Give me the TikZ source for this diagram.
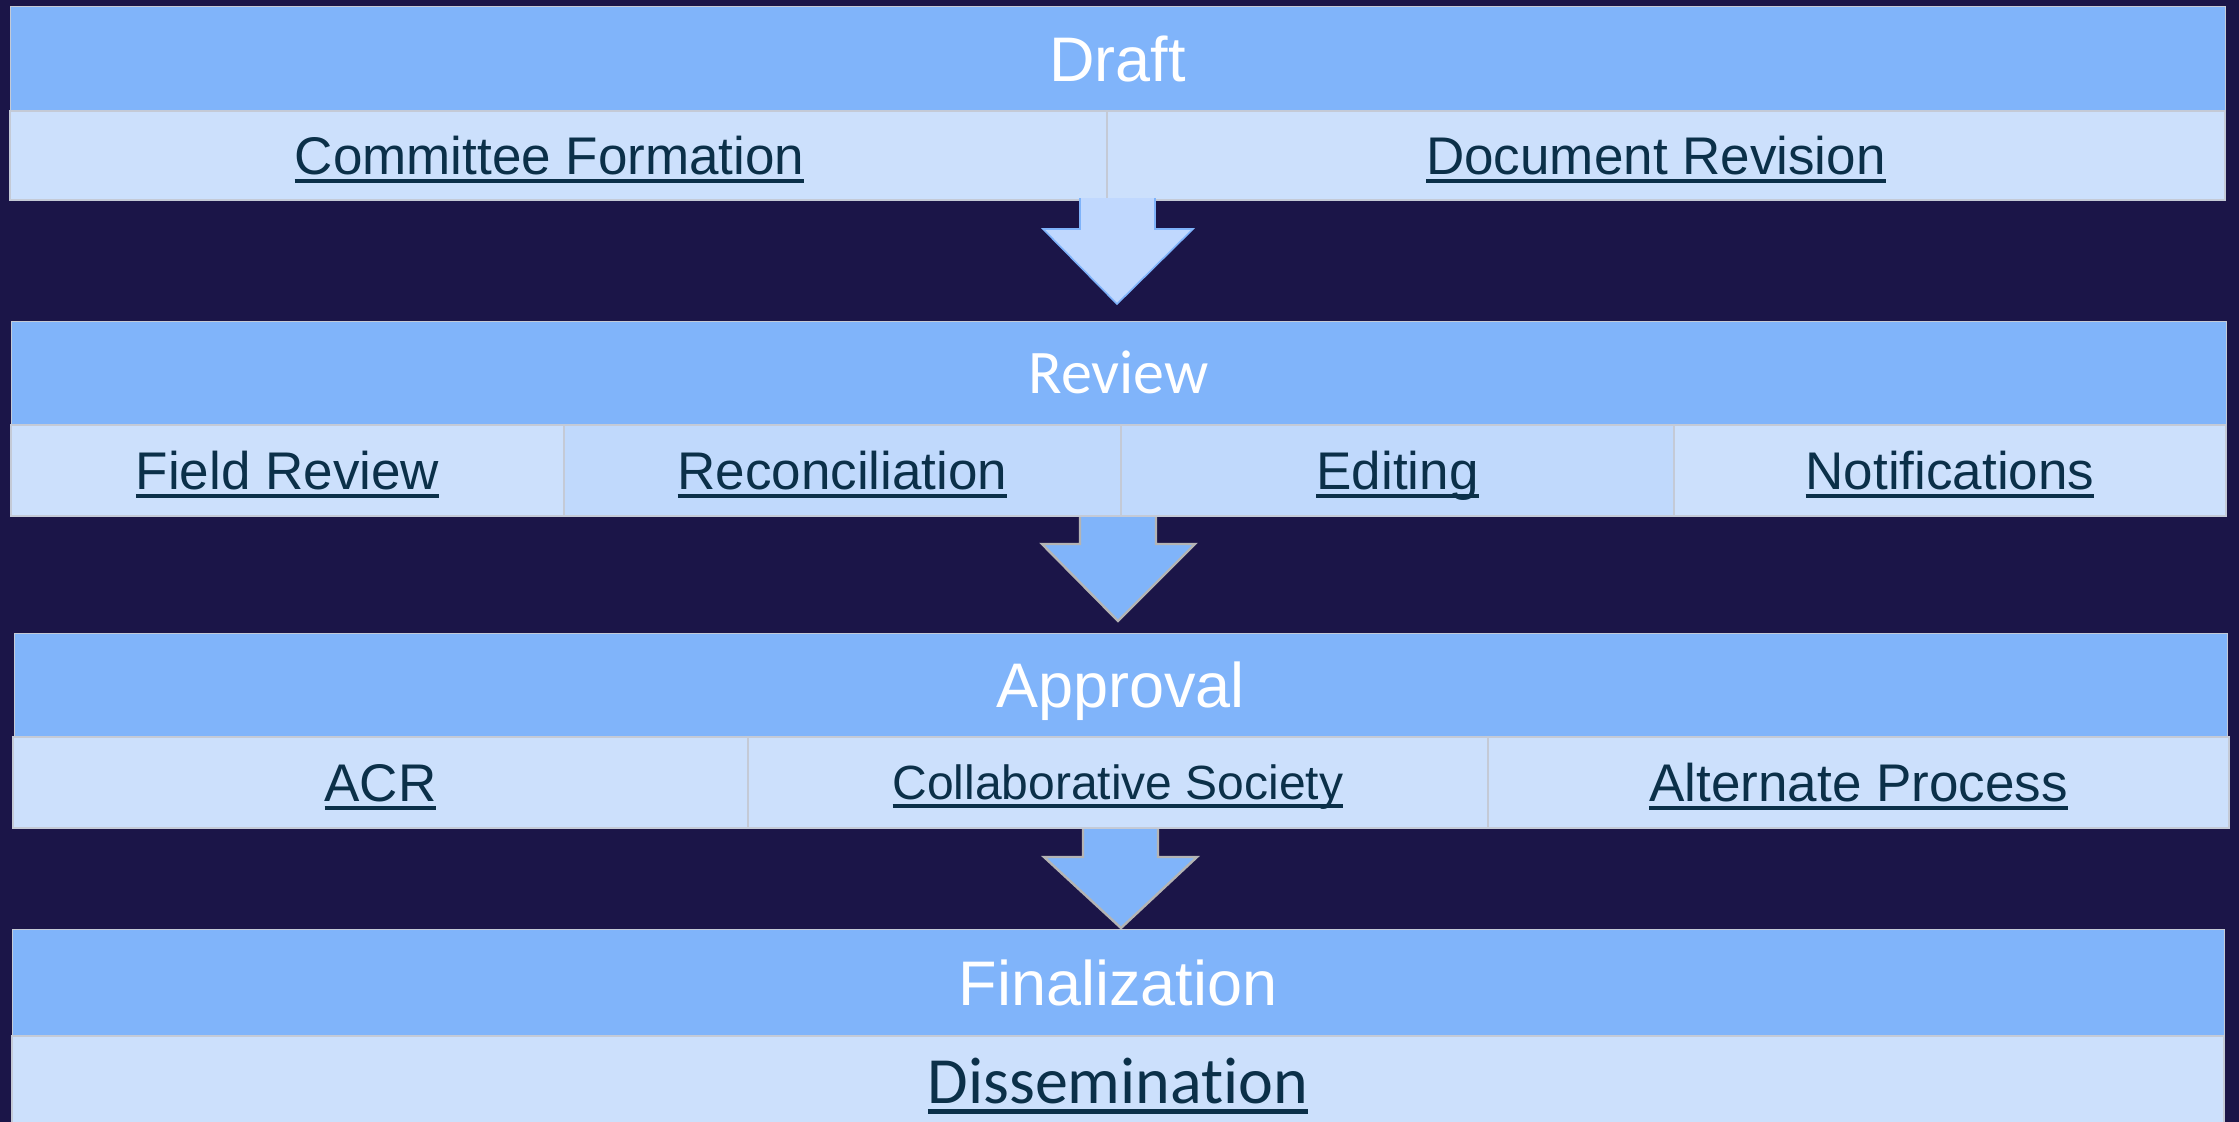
\documentclass[tikz,border=0pt]{standalone}
\usepackage{fontspec}
\setmainfont{Liberation Sans}
\newfontfamily\carlitofont[Ligatures=NoCommon]{Carlito}
\definecolor{bgc}{HTML}{1B1548}
\definecolor{hdr}{HTML}{80B4FA}
\definecolor{cellA}{HTML}{CCE0FC}
\definecolor{cellB}{HTML}{C0D9FC}
\definecolor{txtc}{HTML}{0B3049}
\definecolor{arrlight}{HTML}{C0D8FE}
\definecolor{arredge}{HTML}{7FB3FA}
\definecolor{greyedge}{HTML}{B4B4B4}
\definecolor{cellline}{HTML}{C4CAD6}
\newcommand\ulink[1]{\setbox0\hbox{#1}\rlap{\rule[-0.165em]{\wd0}{0.075em}}\box0}
\tikzset{
  band/.style={fill=hdr, draw=cellline, line width=1pt, inner sep=0pt, text=white,
    font=\fontsize{63}{70}\selectfont, text height=45pt, text depth=0pt},
  cell/.style={fill=cellA, draw=cellline, line width=1.2pt, inner sep=0pt, text=txtc,
    font=\fontsize{53}{60}\selectfont, text height=38pt, text depth=0pt},
  lightarrow/.style={fill=arrlight, draw=arredge, line width=1.6pt, line join=miter},
  bluearrow/.style={fill=hdr, draw=greyedge, line width=2.4pt, line join=miter}
}
\begin{document}
\begin{tikzpicture}[x=1pt,y=-1pt]
\fill[bgc] (0,0) rectangle (2239,1122);
\useasboundingbox (0,0) rectangle (2239,1122);
\clip (0,0) rectangle (2239,1122);

% Draft
\node[band, minimum width=2215pt, minimum height=105pt] (draft) at (1117.5,58.5) {Draft};
\node[cell, minimum width=1097pt, minimum height=89pt] (committee) at (558.5,155.5) {\ulink{Committee Formation}\hspace*{18pt}};
\node[cell, minimum width=1118pt, minimum height=89pt] (docrev) at (1666,155.5) {\ulink{Document Revision}\hspace*{20pt}};

% Arrow 1
\filldraw[lightarrow] (1080,198) -- (1080,229) -- (1043,229) -- (1117,304) -- (1193,229) -- (1155,229) -- (1155,198);

% Review
\node[band, minimum width=2215pt, minimum height=104pt, font=\carlitofont\fontsize{62}{70}\selectfont, text height=40pt] (review) at (1118.5,373) {Review};
\node[cell, minimum width=553pt, minimum height=91pt] (field) at (287.5,470.5) {\ulink{Field Review}};
\node[cell, fill=cellB, minimum width=557pt, minimum height=91pt] (recon) at (842.5,470.5) {\ulink{Reconciliation}};
\node[cell, fill=cellB, minimum width=553pt, minimum height=91pt] (editing) at (1397.5,470.5) {\ulink{Editing}};
\node[cell, minimum width=552pt, minimum height=91pt] (notif) at (1950,470.5) {\ulink{Notifications}};

% Arrow 2
\filldraw[bluearrow] (1080,517) -- (1080,544) -- (1042,544) -- (1118,621) -- (1195,544) -- (1156,544) -- (1156,517);

% Approval
\node[band, minimum width=2213pt, minimum height=104pt] (approval) at (1120.5,685) {Approval};
\node[cell, minimum width=735pt, minimum height=91pt] (acr) at (380.5,782.5) {\ulink{ACR}};
\node[cell, minimum width=740pt, minimum height=91pt, font=\fontsize{48}{56}\selectfont, text height=34.4pt] (collab) at (1118,782.5) {\ulink{Collaborative Society}};
\node[cell, minimum width=741pt, minimum height=91pt] (altproc) at (1858.5,782.5) {\ulink{Alternate Process}};

% Arrow 3
\filldraw[bluearrow] (1083,829) -- (1083,857) -- (1044,857) -- (1121,928) -- (1197,857) -- (1158,857) -- (1158,829);

% Finalization
\node[band, minimum width=2212pt, minimum height=107pt] (final) at (1118,982.5) {Finalization};
\node[cell, minimum width=2212pt, minimum height=92pt, font=\carlitofont\fontsize{66}{72}\selectfont, text height=42.5pt] (dissem) at (1118,1082) {\ulink{Dissemination}};
\end{tikzpicture}
\end{document}
